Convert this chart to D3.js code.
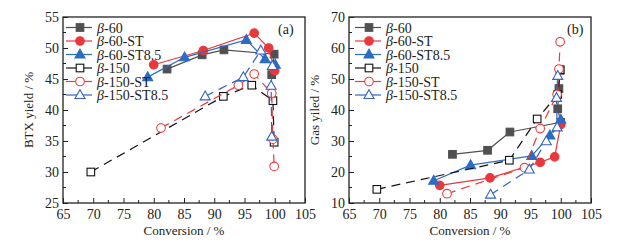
<!DOCTYPE html>
<html>
<head>
<meta charset="utf-8">
<script src="https://cdn.jsdelivr.net/npm/d3@7"></script>
<style>
  body { margin: 0; background: #fff; }
  svg { display: block; font-family: "Liberation Serif", "DejaVu Serif", serif; }
</style>
</head>
<body>
<svg id="chart" width="636" height="245"></svg>
<script>
// series names and styles
const seriesNames = ['60', '60-ST', '60-ST8.5', '150', '150-ST', '150-ST8.5'];

// (a) BTX yield vs conversion
const convA_60 = [82.2, 88.0, 91.6, 99.9, 99.5];
const btx_60 = [46.6, 48.9, 49.7, 49.0, 45.7];
const convA_60ST = [80.0, 88.2, 96.6, 99.0, 100.0];
const btx_60ST = [47.3, 49.6, 52.4, 50.0, 46.3];
const convA_60ST85 = [79.0, 85.1, 95.3, 98.4, 100.1];
const btx_60ST85 = [45.3, 48.5, 51.3, 48.2, 47.3];
const convA_150 = [69.6, 91.5, 96.2, 99.7, 99.9];
const btx_150 = [30.0, 42.2, 44.0, 41.5, 34.8];
const convA_150ST = [81.2, 94.0, 96.6, 99.5, 99.7, 99.9];
const btx_150ST = [37.1, 44.0, 45.8, 42.7, 35.3, 30.9];
const convA_150ST85 = [88.5, 94.8, 97.7, 99.6, 99.4, 99.5];
const btx_150ST85 = [42.2, 45.3, 49.6, 47.1, 43.9, 35.7];

// (b) gas yield vs conversion
const convB_60 = [82.1, 87.9, 91.6, 100.0, 99.5, 99.7, 99.9];
const gas_60 = [25.7, 27.0, 32.9, 36.0, 40.4, 46.9, 52.8];
const convB_60ST = [80.0, 88.3, 96.6, 99.0, 100.0];
const gas_60ST = [15.7, 18.1, 23.1, 24.9, 35.3];
const convB_60ST85 = [79.0, 85.1, 95.2, 98.2, 100.0];
const gas_60ST85 = [17.2, 22.2, 25.2, 31.8, 36.9];
const convB_150 = [69.6, 91.5, 96.1, 99.5, 99.9];
const gas_150 = [14.4, 23.8, 37.1, 45.0, 53.0];
const convB_150ST = [81.2, 94.0, 96.6, 99.4, 99.7, 99.9];
const gas_150ST = [13.0, 21.4, 34.0, 45.0, 53.2, 62.0];
const convB_150ST85 = [88.4, 94.8, 97.6, 99.4, 99.3, 99.5];
const gas_150ST85 = [12.7, 20.8, 29.9, 34.4, 43.9, 51.0];

const xTicks = [65, 70, 75, 80, 85, 90, 95, 100, 105];
const yTicksA = [25, 30, 35, 40, 45, 50, 55];
const yTicksB = [10, 20, 30, 40, 50, 60, 70];

const styles = [
  { color: '#505050', marker: 'square', filled: true, dash: null },
  { color: '#e8383d', marker: 'circle', filled: true, dash: null },
  { color: '#2b6cc4', marker: 'triangle', filled: true, dash: null },
  { color: '#111111', marker: 'square', filled: false, dash: '9,6' },
  { color: '#ee3a3a', marker: 'circle', filled: false, dash: '9,6' },
  { color: '#3563c0', marker: 'triangle', filled: false, dash: '9,6' }
];

const svg = d3.select('#chart');

function marker(g, st, x, y) {
  const fill = st.filled ? st.color : '#fff';
  if (st.marker === 'square') {
    g.append('rect').attr('x', x - 3.8).attr('y', y - 3.8).attr('width', 7.6).attr('height', 7.6)
      .attr('fill', fill).attr('stroke', st.color).attr('stroke-width', 1.1);
  } else if (st.marker === 'circle') {
    g.append('circle').attr('cx', x).attr('cy', y).attr('r', 4.3)
      .attr('fill', fill).attr('stroke', st.color).attr('stroke-width', 1.1);
  } else {
    g.append('path').attr('d', `M${x},${y - 5.3}L${x + 5},${y + 3.5}L${x - 5},${y + 3.5}Z`)
      .attr('fill', fill).attr('stroke', st.color).attr('stroke-width', 1.1);
  }
}

function panel(opts) {
  const { left, right, top, bottom, yDomain, yTicks, yMinor, xs, ys, ylabel, tag, tagX, legX } = opts;
  const x = d3.scaleLinear().domain([65, 105]).range([left, right]);
  const y = d3.scaleLinear().domain(yDomain).range([bottom, top]);
  const g = svg.append('g');

  // minor ticks
  const xMinor = d3.range(67.5, 105, 5);
  g.selectAll('.xm').data(xMinor).enter().append('line')
    .attr('x1', d => x(d)).attr('x2', d => x(d)).attr('y1', bottom).attr('y2', bottom - 3)
    .attr('stroke', '#222').attr('stroke-width', 1);
  g.selectAll('.ym').data(yMinor).enter().append('line')
    .attr('y1', d => y(d)).attr('y2', d => y(d)).attr('x1', left).attr('x2', left + 3)
    .attr('stroke', '#222').attr('stroke-width', 1);

  const xAxis = d3.axisBottom(x).tickValues(xTicks).tickSizeInner(-5).tickSizeOuter(0).tickPadding(8);
  const gx = g.append('g').attr('transform', `translate(0,${bottom})`).call(xAxis);
  const yAxis = d3.axisLeft(y).tickValues(yTicks).tickSizeInner(-5).tickSizeOuter(0).tickPadding(4);
  const gy = g.append('g').attr('transform', `translate(${left},0)`).call(yAxis);
  [gx, gy].forEach(a => {
    a.select('.domain').remove();
    a.selectAll('line').attr('stroke', '#222');
    a.selectAll('text').attr('font-size', 14).attr('fill', '#222')
      .attr('font-family', '"Liberation Serif", serif');
  });
  gx.selectAll('text').attr('dy', '0.6em');

  g.append('rect').attr('x', left).attr('y', top).attr('width', right - left).attr('height', bottom - top)
    .attr('fill', 'none').attr('stroke', '#222').attr('stroke-width', 1.3);

  // series
  styles.forEach((st, i) => {
    const pts = xs[i].map((v, j) => [x(v), y(ys[i][j])]);
    g.append('path').attr('d', d3.line()(pts)).attr('fill', 'none')
      .attr('stroke', st.color).attr('stroke-width', 1.2)
      .attr('stroke-dasharray', st.dash);
    pts.forEach(p => marker(g, st, p[0], p[1]));
  });

  // legend
  const lg = g.append('g');
  seriesNames.forEach((name, i) => {
    const st = styles[i];
    const ly = 27.5 + i * 13.5;
    lg.append('line').attr('x1', legX).attr('x2', legX + 26).attr('y1', ly).attr('y2', ly)
      .attr('stroke', st.color).attr('stroke-width', 1.2);
    marker(lg, st, legX + 14, ly);
    const t = lg.append('text').attr('x', legX + 31).attr('y', ly + 5)
      .attr('font-size', 14).attr('fill', '#222');
    t.append('tspan').attr('font-style', 'italic').text('β');
    t.append('tspan').text('-' + name);
  });

  g.append('text').attr('x', tagX).attr('y', 34).attr('font-size', 14).attr('fill', '#222').text(tag);

  g.append('text').attr('x', (left + right) / 2).attr('y', 235).attr('text-anchor', 'middle')
    .attr('font-size', 13).attr('fill', '#222').text('Conversion / %');
  g.append('text').attr('transform', `translate(${left - 30},${(top + bottom) / 2}) rotate(-90)`)
    .attr('text-anchor', 'middle').attr('font-size', 13).attr('fill', '#222').text(ylabel);
}

panel({
  left: 63, right: 305, top: 17, bottom: 203,
  yDomain: [25, 55], yTicks: yTicksA, yMinor: d3.range(27.5, 55, 5),
  xs: [convA_60, convA_60ST, convA_60ST85, convA_150, convA_150ST, convA_150ST85],
  ys: [btx_60, btx_60ST, btx_60ST85, btx_150, btx_150ST, btx_150ST85],
  ylabel: 'BTX yield / %', tag: '(a)', tagX: 278, legX: 66
});

panel({
  left: 349, right: 591, top: 17, bottom: 203,
  yDomain: [10, 70], yTicks: yTicksB, yMinor: d3.range(15, 70, 10),
  xs: [convB_60, convB_60ST, convB_60ST85, convB_150, convB_150ST, convB_150ST85],
  ys: [gas_60, gas_60ST, gas_60ST85, gas_150, gas_150ST, gas_150ST85],
  ylabel: 'Gas yiled / %', tag: '(b)', tagX: 567, legX: 355
});
</script>
</body>
</html>
